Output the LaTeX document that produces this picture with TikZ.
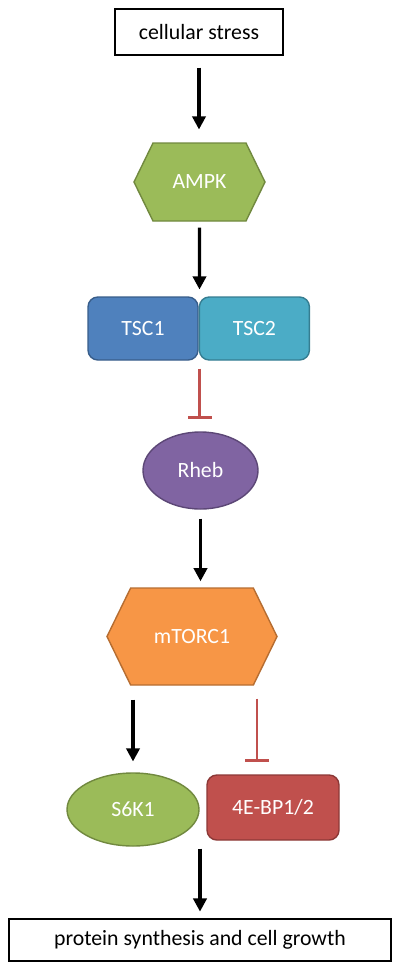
\documentclass[tikz,border=0pt]{standalone}
\usepackage{fontspec}
\setmainfont{Carlito}
\usepackage{tikz}
\usetikzlibrary{
  arrows.meta,
  positioning,
  calc,
  shapes.geometric,
  shapes.symbols
}
\usepackage{xcolor}
\definecolor{ampkgreen}{HTML}{9BBB59}
\definecolor{ampkline}{HTML}{71893F}
\definecolor{tscblue}{HTML}{4F81BD}
\definecolor{tscbline}{HTML}{385D8A}
\definecolor{tsccyan}{HTML}{4BACC6}
\definecolor{tsccline}{HTML}{357D91}
\definecolor{rhebviolet}{HTML}{8064A2}
\definecolor{rhebline}{HTML}{5C4776}
\definecolor{mtororange}{HTML}{F79646}
\definecolor{mtorline}{HTML}{B66D31}
\definecolor{bpred}{HTML}{C0504D}
\definecolor{bpline}{HTML}{8C3836}

\begin{document}
\begin{tikzpicture}[
    font=\fontsize{15.5pt}{18pt}\selectfont,
    outbox/.style={draw=black, line width=0.8pt, inner sep=0pt},
    hexa/.style={signal, signal to=west and east, signal pointer angle=128,
      inner sep=0pt, text=white, line width=1pt},
    prot/.style={rounded corners=7pt, inner sep=0pt, text=white, line width=1pt},
    blob/.style={ellipse, inner sep=0pt, text=white, line width=1pt},
    act/.style={-{Triangle[length=0.33cm,width=0.33cm]}, line width=2.4pt},
    inh/.style={-{Bar[width=0.6cm]}, line width=1.9pt, bpred}
  ]
    \useasboundingbox (0,0) rectangle (10,-24.275);
    \node[outbox, minimum width=4.2cm, minimum height=1.15cm] (stress) at (4.975,-0.8) {cellular stress};
    \node[hexa, fill=ampkgreen, draw=ampkline, minimum width=3.275cm, minimum height=1.95cm] (ampk) at (4.9875,-4.55) {AMPK};
    \node[prot, fill=tscblue, draw=tscbline, minimum width=2.75cm, minimum height=1.575cm] (tsc1) at (3.575,-8.2125) {TSC1};
    \node[prot, fill=tsccyan, draw=tsccline, minimum width=2.75cm, minimum height=1.575cm, right=0pt of tsc1] (tsc2) {TSC2};
    \node[blob, fill=rhebviolet, draw=rhebline, minimum width=2.875cm, minimum height=1.925cm] (rheb) at (5.0125,-11.7625) {Rheb};
    \node[hexa, fill=mtororange, draw=mtorline, minimum width=4.25cm, minimum height=2.425cm] (mtorc) at (4.8,-15.9125) {mTORC1};
    \node[blob, fill=ampkgreen, draw=ampkline, minimum width=3.3cm, minimum height=1.825cm] (s6k) at (3.325,-20.2375) {S6K1};
    \node[prot, fill=bpred, draw=bpline, minimum width=3.3cm, minimum height=1.625cm] (bp) at (6.825,-20.1875) {4E-BP1/2};
    \node[outbox, minimum width=9.55cm, minimum height=1.05cm] (growth) at (5,-23.5) {protein synthesis and cell growth};
    \draw[act, shorten <=0.3cm, shorten >=0.32cm] (stress) -- (stress |- ampk.north);
    \draw[act, shorten <=0.15cm, shorten >=0.17cm] (ampk) -- (ampk |- tsc1.north);
    \draw[inh, shorten <=0.2cm, shorten >=0.32cm] (ampk |- tsc1.south) -- (ampk |- rheb.north);
    \draw[act, shorten <=0.22cm, shorten >=0.15cm] (rheb) -- (rheb |- mtorc.north);
    \draw[act, shorten <=0.35cm, shorten >=0.27cm] (s6k |- mtorc.south) -- (s6k);
    \coordinate (bpfoot) at ([xshift=1.625cm]mtorc.south);
    \draw[inh, shorten <=0.32cm, shorten >=0.32cm] (bpfoot) -- (bpfoot |- bp.north);
    \draw[act, shorten <=0.2cm, shorten >=0.17cm] (growth |- bp.south) -- (growth);
\end{tikzpicture}
\end{document}
